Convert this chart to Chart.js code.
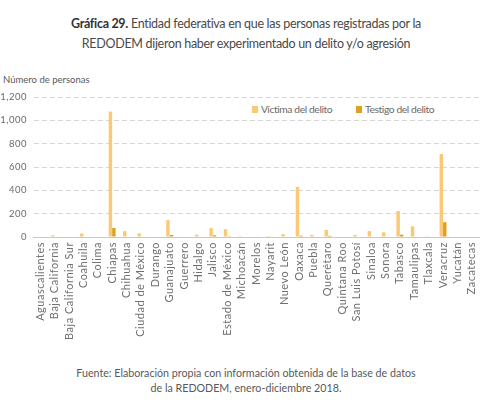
<!DOCTYPE html>
<html>
<head>
<meta charset="utf-8">
<script src="https://cdn.jsdelivr.net/npm/chart.js@4.4.1/dist/chart.umd.min.js"></script>
<style>
  html, body { margin: 0; padding: 0; background: #fff; }
  body { width: 492px; height: 412px; position: relative; overflow: hidden; font-family: Lato, "Open Sans", sans-serif; }
  .title { position: absolute; left: 0; width: 492px; top: 14px; text-align: center; font-size: 12.5px; letter-spacing: -0.3px; line-height: 20px; color: #4a4a4a; }
  .title b { color: #333; font-weight: 700; }
  .ytitle { position: absolute; left: 3px; top: 74px; font-size: 9.5px; color: #595959; }
  .legend { position: absolute; top: 103px; font-size: 10.3px; letter-spacing: -0.4px; color: #6a6a6a; white-space: nowrap; }
  .legend span.sw { display: inline-block; width: 6px; height: 7px; margin-right: 3px; vertical-align: 0px; }
  .foot { position: absolute; left: 0; width: 492px; top: 365px; text-align: center; font-size: 10.7px; line-height: 15px; color: #595959; }
  #wrap { position: absolute; left: 0; top: 70px; width: 492px; height: 290px; }
</style>
</head>
<body>
<div class="title"><b>Gráfica 29.</b> Entidad federativa en que las personas registradas por la<br>REDODEM dijeron haber experimentado un delito y/o agresión</div>
<div class="ytitle">Número de personas</div>
<div class="legend" style="left:252px;"><span class="sw" style="background:#fbc878"></span>Víctima del delito</div>
<div class="legend" style="left:356px;"><span class="sw" style="background:#dda01f"></span>Testigo del delito</div>
<div id="wrap"><canvas id="c" width="492" height="290"></canvas></div>
<div class="foot">Fuente: Elaboración propia con información obtenida de la base de datos<br>de la REDODEM, enero-diciembre 2018.</div>
<script>
const categories = ["Aguascalientes","Baja California","Baja California Sur","Coahuila","Colima","Chiapas","Chihuahua","Ciudad de México","Durango","Guanajuato","Guerrero","Hidalgo","Jalisco","Estado de México","Michoacán","Morelos","Nayarit","Nuevo León","Oaxaca","Puebla","Querétaro","Quintana Roo","San Luis Potosí","Sinaloa","Sonora","Tabasco","Tamaulipas","Tlaxcala","Veracruz","Yucatán","Zacatecas"];
const victima = [0,15,0,30,5,1075,50,32,0,144,0,20,76,68,8,0,8,25,430,18,60,0,18,50,40,222,92,7,712,0,0];
const testigo = [0,0,0,0,0,77,0,0,0,17,0,0,15,7,0,0,0,0,11,0,10,0,0,0,0,20,0,0,127,0,0];
const yTicks = [0,200,400,600,800,1000,1200];
const seriesNames = ["Víctima del delito","Testigo del delito"];

const spacing = {
  id: 'spacing',
  beforeDraw(chart) { chart.ctx.letterSpacing = '0.5px'; }
};

const chart = new Chart(document.getElementById('c'), {
  type: 'bar',
  data: {
    labels: categories,
    datasets: [
      { label: seriesNames[0], data: victima, backgroundColor: '#fbc878', categoryPercentage: 0.48, barPercentage: 1.0 },
      { label: seriesNames[1], data: testigo, backgroundColor: '#dda01f', categoryPercentage: 0.48, barPercentage: 1.0 }
    ]
  },
  plugins: [spacing],
  options: {
    responsive: false,
    animation: false,
    layout: { padding: { top: 27, right: 13, left: 0, bottom: 0 } },
    plugins: { legend: { display: false }, tooltip: { enabled: false } },
    scales: {
      x: {
        grid: { display: false, drawTicks: false },
        border: { display: true, color: '#c8c8c8', width: 1 },
        ticks: {
          autoSkip: false, maxRotation: 90, minRotation: 90, padding: 5,
          color: '#707070', font: { family: 'Lato, "Open Sans", sans-serif', size: 11 }
        },
        afterFit: (s) => { s.height = 123; }
      },
      y: {
        min: 0, max: 1200,
        afterBuildTicks: (s) => { s.ticks = yTicks.map(v => ({ value: v })); },
        grid: {
          drawTicks: false,
          color: (ctx) => ctx.tick && ctx.tick.value === 0 ? 'rgba(0,0,0,0)' : '#d6d6d6',
          lineWidth: 1
        },
        border: { display: true, color: 'rgba(0,0,0,0)', dash: [5, 3] },
        ticks: {
          padding: 6, color: '#6a6a6a',
          font: { family: 'Lato, "Open Sans", sans-serif', size: 9.5 },
          callback: (v) => Number(v).toLocaleString('en-US')
        },
        afterFit: (s) => { s.width = 33; }
      }
    }
  }
});
</script>
</body>
</html>
